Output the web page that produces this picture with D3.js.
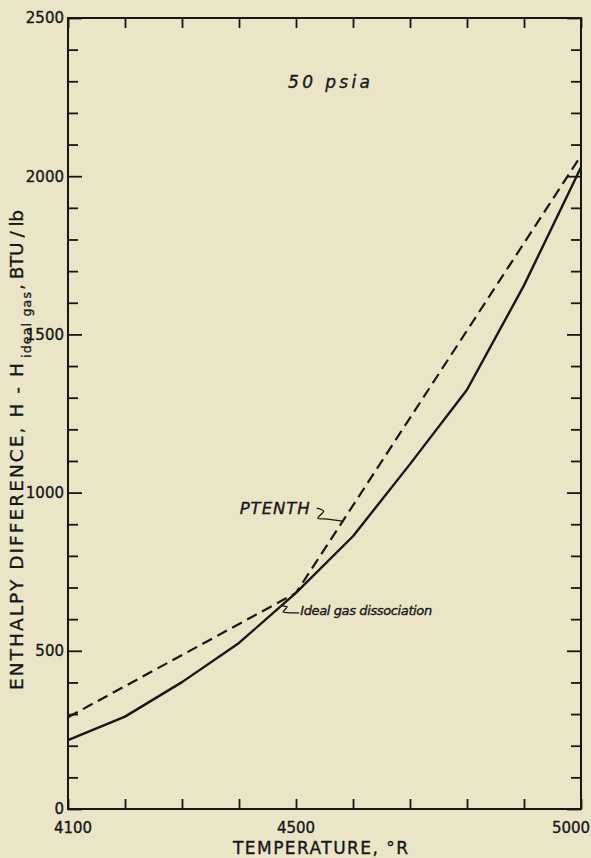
<!DOCTYPE html>
<html>
<head>
<meta charset="utf-8">
<script src="https://cdn.jsdelivr.net/npm/d3@7"></script>
<style>
  html, body { margin: 0; padding: 0; background: #ebe5c8; }
  svg { display: block; }
</style>
</head>
<body>
<svg id="chart" width="591" height="858"></svg>
<script>
// Enthalpy difference H - H(ideal gas), BTU/lb, at 50 psia
const temperatures = [4100, 4200, 4300, 4400, 4500, 4600, 4700, 4800, 4900, 5000];
const idealGasDissociation = [218, 292, 401, 525, 683, 862, 1090, 1325, 1655, 2028];
const ptenthTemperatures = [4100, 4500, 5000];
const ptenthValues = [290, 683, 2065];

const xTicks = [4100, 4200, 4300, 4400, 4500, 4600, 4700, 4800, 4900, 5000];
const xTickLabels = [4100, 4500, 5000];
const yMajorTicks = [0, 500, 1000, 1500, 2000, 2500];
const yMinorTicks = d3.range(0, 2501, 100).filter(v => v % 500 !== 0);

const ink = "#161616";
const font = "'DejaVu Sans', sans-serif";

const svg = d3.select("#chart");
const W = 591, H = 858;
const plot = { left: 68, right: 581, top: 18, bottom: 809 };

const x = d3.scaleLinear().domain([4100, 5000]).range([plot.left, plot.right]);
const y = d3.scaleLinear().domain([0, 2500]).range([plot.bottom, plot.top]);

svg.append("rect").attr("width", W).attr("height", H).attr("fill", "#ebe5c8");

// inward-pointing ticks on all four sides
function tickAxis(axis, transform, values, size) {
  const g = svg.append("g")
    .attr("transform", transform)
    .call(axis.tickValues(values).tickSize(-size).tickFormat(""));
  g.select(".domain").remove();
  g.selectAll(".tick line").attr("stroke", ink).attr("stroke-width", 1.8);
  return g;
}
tickAxis(d3.axisBottom(x), `translate(0,${plot.bottom})`, xTicks, 10);
tickAxis(d3.axisTop(x), `translate(0,${plot.top})`, xTicks, 10);
tickAxis(d3.axisLeft(y), `translate(${plot.left},0)`, yMinorTicks, 10);
tickAxis(d3.axisLeft(y), `translate(${plot.left},0)`, yMajorTicks, 14);
tickAxis(d3.axisRight(y), `translate(${plot.right},0)`, yMinorTicks, 10);
tickAxis(d3.axisRight(y), `translate(${plot.right},0)`, yMajorTicks, 14);

// frame
svg.append("rect")
  .attr("x", plot.left).attr("y", plot.top)
  .attr("width", plot.right - plot.left).attr("height", plot.bottom - plot.top)
  .attr("fill", "none").attr("stroke", ink).attr("stroke-width", 2);

// lettering is drawn slightly heavier than the plain font
function ink_text(sel) {
  return sel.attr("fill", ink).attr("stroke", ink).attr("stroke-width", 0.35);
}

// tick labels
ink_text(svg.append("g").selectAll("text").data(yMajorTicks).join("text")
  .attr("x", plot.left - 4).attr("y", d => y(d)).attr("dy", "0.36em")
  .attr("text-anchor", "end")
  .attr("font-family", font).attr("font-size", 15)
  .text(d => d));

const xLabelShift = { 4100: 5, 4500: 0, 5000: -10 };
ink_text(svg.append("g").selectAll("text").data(xTickLabels).join("text")
  .attr("x", d => x(d) + xLabelShift[d]).attr("y", 833)
  .attr("text-anchor", "middle")
  .attr("font-family", font).attr("font-size", 15)
  .text(d => d));

// curves
const line = d3.line().x(d => x(d[0])).y(d => y(d[1]));

svg.append("path")
  .datum(ptenthTemperatures.map((t, i) => [t, ptenthValues[i]]))
  .attr("d", line)
  .attr("fill", "none").attr("stroke", ink).attr("stroke-width", 2.2)
  .attr("stroke-dasharray", "11,6");

svg.append("path")
  .datum(temperatures.map((t, i) => [t, idealGasDissociation[i]]))
  .attr("d", line)
  .attr("fill", "none").attr("stroke", ink).attr("stroke-width", 2.4)
  .attr("stroke-linejoin", "round");

// annotations
function label(txt, px, py, size, width, italic) {
  return ink_text(svg.append("text")
    .attr("x", px).attr("y", py)
    .attr("font-family", font).attr("font-size", size)
    .attr("font-style", italic ? "italic" : "normal")
    .attr("textLength", width).attr("lengthAdjust", "spacing")
    .text(txt));
}

label("50 psia", 288, 88, 17, 82, true);

const leader = d3.line().curve(d3.curveCardinal.tension(0.3));

// PTENTH leader ends on the dashed curve
const ptenthAt = d3.scaleLinear().domain(ptenthTemperatures).range(ptenthValues);
const pT = 4582;
const pA = [x(pT), y(ptenthAt(pT))];
svg.append("path")
  .attr("d", leader([[-26, -13], [-19, -10], [-25, -3], [-15, -2], [0, 0]].map(d => [pA[0] + d[0], pA[1] + d[1]])))
  .attr("fill", "none").attr("stroke", ink).attr("stroke-width", 1.3);
label("PTENTH", pA[0] - 103, pA[1] - 7, 16.5, 70, true);

// ideal gas leader starts on the solid curve
const idealAt = d3.scaleLinear().domain(temperatures).range(idealGasDissociation);
const iT = 4474;
const iA = [x(iT), y(idealAt(iT))];
svg.append("path")
  .attr("d", leader([[0, 0], [6, 1], [2, 6], [10, 7], [18, 7]].map(d => [iA[0] + d[0], iA[1] + d[1]])))
  .attr("fill", "none").attr("stroke", ink).attr("stroke-width", 1.3);
label("Ideal gas dissociation", iA[0] + 19, iA[1] + 9, 13, 132, true);

// axis titles
label("TEMPERATURE, °R", 233, 854, 17, 175, false);

function vlabel(txt, px, py, size, width) {
  return ink_text(svg.append("text")
    .attr("transform", `translate(${px},${py}) rotate(-90)`)
    .attr("font-family", font).attr("font-size", size)
    .attr("textLength", width).attr("lengthAdjust", "spacing")
    .text(txt));
}
vlabel("ENTHALPY DIFFERENCE, H - H", 23, 690, 18.5, 327);
vlabel("ideal gas", 31, 358, 12.5, 66);
vlabel(", BTU / lb", 23, 290, 18.5, 80);
</script>
</body>
</html>
